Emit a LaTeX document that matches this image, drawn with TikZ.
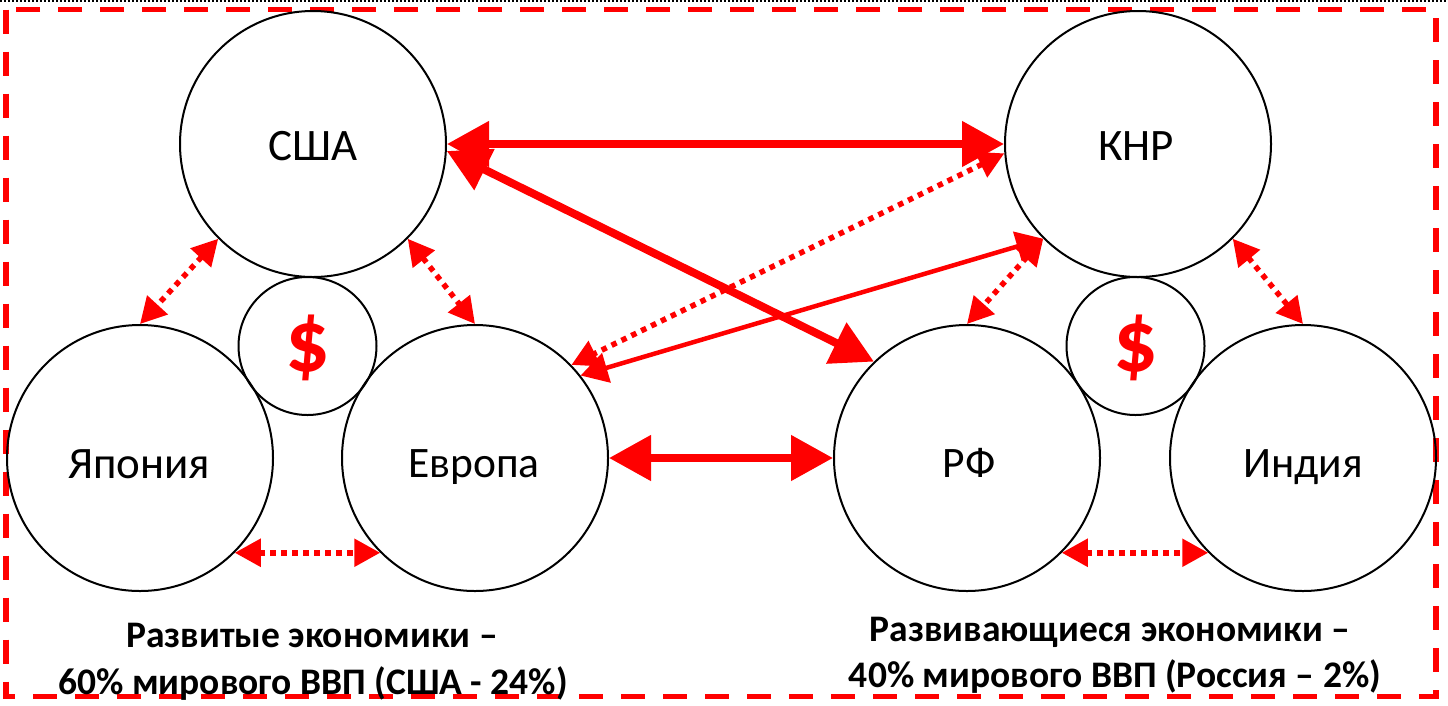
\documentclass[tikz,border=0pt]{standalone}
\usepackage{fontspec}
\setmainfont{Carlito}
\usetikzlibrary{arrows.meta}
\definecolor{rd}{RGB}{255,0,0}
\begin{document}
\begin{tikzpicture}[x=1pt,y=-1pt,
  country/.style={circle,draw=black,line width=2pt,minimum size=266pt,inner sep=0pt},
  money/.style={circle,draw=black,line width=2pt,minimum size=138pt,inner sep=0pt},
  lbl/.style={anchor=base,font=\fontsize{45}{50}\selectfont},
  lbls/.style={anchor=base,font=\fontsize{43.5}{50}\selectfont},
  dollar/.style={text=rd,font=\bfseries\fontsize{88}{90}\selectfont,inner sep=0pt},
  note/.style={anchor=base,font=\bfseries\fontsize{37.5}{40}\selectfont,inner sep=0pt},
  big/.style={rd,line width=8pt,{Triangle[length=42pt,width=44pt]}-{Triangle[length=42pt,width=44pt]}},
  mid/.style={rd,line width=4.5pt,{Triangle[length=27pt,width=30pt]}-{Triangle[length=27pt,width=30pt]}},
  dots/.style={rd,line width=5.5pt,dash pattern=on 5.5pt off 5.5pt,{Triangle[length=26pt,width=27pt]}-{Triangle[length=26pt,width=27pt]}},
  frame/.style={rd,line width=5.5pt,dash pattern=on 24pt off 18pt},
  topline/.style={black,line width=1.8pt,dash pattern=on 2pt off 2pt}
]
\useasboundingbox (0,0) rectangle (1448,705);
\draw[topline] (0,1) -- (1448,1);
\draw[frame] (6,9.5) rectangle (1436,696.5);

\node[country] (usa) at (313,144) {};
\node[country] (knr) at (1138,144) {};
\node[country] (jap) at (140,458) {};
\node[country] (eur) at (475,458) {};
\node[country] (rf) at (967,458) {};
\node[country] (ind) at (1303,458) {};
\node[money] (mL) at (307.5,346) {};
\node[money] (mR) at (1135.5,346) {};

\node[lbl] (tusa) at (313,160) {США};
\node[lbl] (tknr) at (1136,160) {КНР};
\node[lbl] (tjap) at (139,478) {Япония};
\node[lbls] (teur) at (474,477) {Европа};
\node[lbls] (trf) at (969,477) {РФ};
\node[lbls] (tind) at (1303,477) {Индия};

\node[dollar] (dL) at (307.5,348) {\$};
\node[dollar] (dR) at (1135.5,348) {\$};

\draw[big] (usa.east) -- (knr.west);
\draw[big] (usa.-3) -- (rf.134);
\draw[big] (eur.east) -- (rf.west);
\draw[mid] (knr.225) -- (eur.38);
\draw[dots] (knr.184) -- (eur.44);
\draw[dots] (usa.225) -- (jap.north);
\draw[dots] (usa.-45) -- (eur.north);
\draw[dots] (knr.225) -- (rf.north);
\draw[dots] (knr.-45) -- (ind.north);
\draw[dots] (jap.-45) -- (eur.-135);
\draw[dots] (rf.-45) -- (ind.-135);

\node[note] (n1) at (312,647) {Развитые экономики –};
\node[note] (n2) at (313,694) {60\% мирового ВВП (США - 24\%)};
\node[note] (n3) at (1110,641) {Развивающиеся экономики –};
\node[note] (n4) at (1115,687) {40\% мирового ВВП (Россия – 2\%)};
\end{tikzpicture}
\end{document}
